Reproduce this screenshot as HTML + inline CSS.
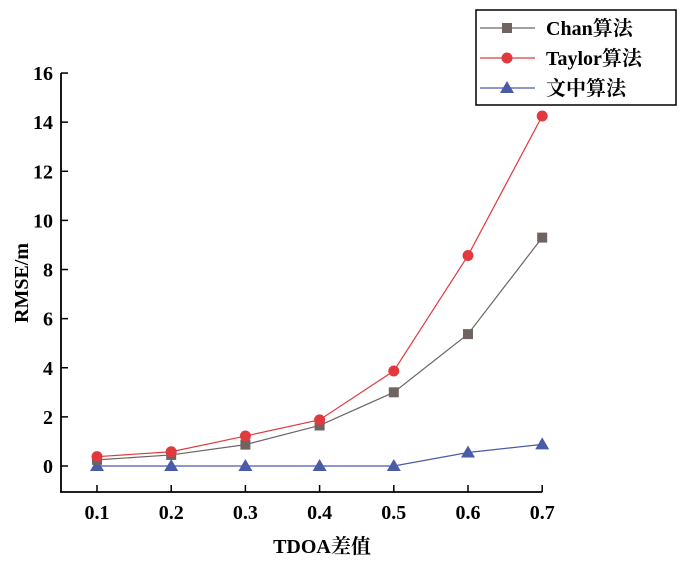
<!DOCTYPE html>
<html><head><meta charset="utf-8"><style>
body{margin:0;background:#fff;}
svg text{font-family:"Liberation Serif","Noto Serif CJK SC",serif;}
</style></head><body>
<svg id="chart" width="700" height="564" xmlns="http://www.w3.org/2000/svg"></svg>
<script>
const categories=[0.1,0.2,0.3,0.4,0.5,0.6,0.7];
const chanValues=[0.25,0.45,0.87,1.65,3.0,5.37,9.3];
const taylorValues=[0.38,0.58,1.22,1.88,3.87,8.57,14.25];
const oursValues=[0,0,0,0,0,0.55,0.88];
const yTicks=[0,2,4,6,8,10,12,14,16];
const xTickLabels=["0.1","0.2","0.3","0.4","0.5","0.6","0.7"];
const seriesNames=["Chan算法","Taylor算法","文中算法"];

const NS="http://www.w3.org/2000/svg";
const svg=document.getElementById('chart');
function x(v){return 97+(v-0.1)/0.1*74.2;}
function y(v){return 466-v*24.56;}
function mk(tag,attrs,parent){const e=document.createElementNS(NS,tag);for(const k in attrs)e.setAttribute(k,attrs[k]);(parent||svg).appendChild(e);return e;}

const axisL=mk('line',{x1:61,y1:y(16),x2:61,y2:492,stroke:'#000','stroke-width':1.8});


const axisB=mk('line',{x1:60.1,y1:492,x2:x(0.7),y2:492,stroke:'#000','stroke-width':1.8});



yTicks.forEach(t=>{
  const l=mk('line',{x1:61,y1:y(t),x2:68,y2:y(t),stroke:'#000','stroke-width':1.5});
  
  
  const tx=mk('text',{x:53,y:y(t)+7,'text-anchor':'end','font-size':20,'font-weight':'bold'});
  tx.textContent=t;
  
  
});
categories.forEach((c,i)=>{
  const l=mk('line',{x1:x(c),y1:492,x2:x(c),y2:485,stroke:'#000','stroke-width':1.5});
  
  
  const tx=mk('text',{x:x(c),y:519,'text-anchor':'middle','font-size':20,'font-weight':'bold'});
  tx.textContent=xTickLabels[i];
  
  
});
const xt=mk('text',{x:322,y:553,'text-anchor':'middle','font-size':20,'font-weight':'bold'});
xt.textContent='TDOA差值';


const yt=mk('text',{x:0,y:0,'text-anchor':'middle','font-size':20,'font-weight':'bold',transform:'translate(28,283) rotate(-90)'});
yt.textContent='RMSE/m';



function marker(type,cx,cy,color,parent){
  let e;
  if(type==='sq')e=mk('rect',{x:cx-5,y:cy-5,width:10,height:10,fill:color},parent);
  else if(type==='ci')e=mk('circle',{cx:cx,cy:cy,r:5.5,fill:color},parent);
  else e=mk('polygon',{points:`${cx},${cy-7} ${cx-7},${cy+5} ${cx+7},${cy+5}`,fill:color},parent);
  return e;
}
const series=[[oursValues,'#4a5ba8','tr','ours-series'],[chanValues,'#6e6462','sq','chan-series'],[taylorValues,'#e03a3e','ci','taylor-series']];
series.forEach(([vals,color,type,name])=>{
  const g=mk('g',{});
  
  
  mk('polyline',{points:vals.map((v,i)=>x(categories[i])+','+y(v)).join(' '),fill:'none',stroke:color,'stroke-width':1.2},g);
  vals.forEach((v,i)=>{
    const m=marker(type,x(categories[i]),y(v),color,g);
    
    
  });
});

const lg=mk('g',{});


mk('rect',{x:476,y:10,width:200,height:95,fill:'#fff',stroke:'#000','stroke-width':1.5},lg);
const lc=['#6e6462','#e03a3e','#4a5ba8'],lt=['sq','ci','tr'];
seriesNames.forEach((n,i)=>{
  const yy=28+i*30;
  const e=mk('g',{},lg);
  
  
  mk('line',{x1:480,y1:yy,x2:535,y2:yy,stroke:lc[i],'stroke-width':1.2},e);
  marker(lt[i],507,yy,lc[i],e);
  const t=mk('text',{x:546,y:yy+7,'font-size':20,'font-weight':'bold'},e);
  t.textContent=n;
});
</script>
</body></html>
